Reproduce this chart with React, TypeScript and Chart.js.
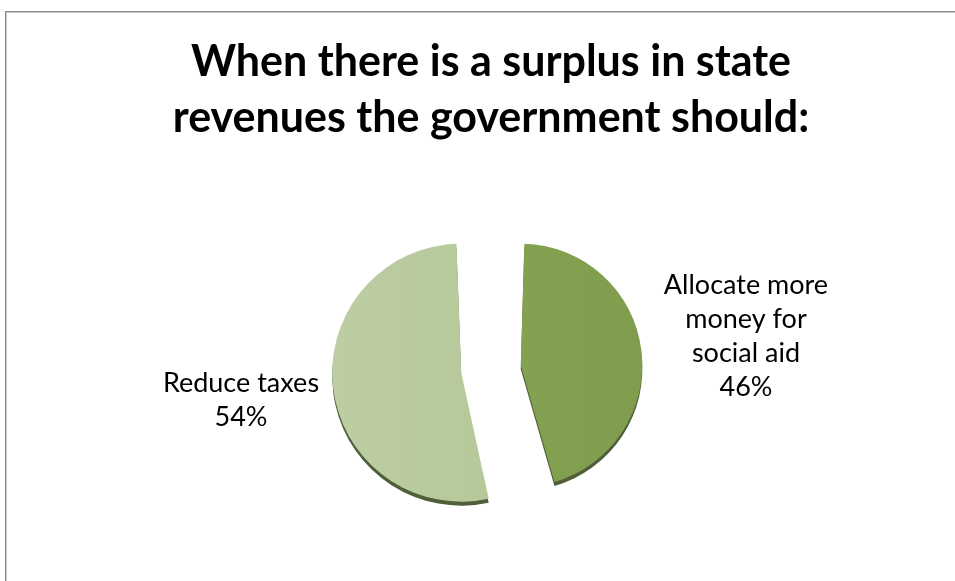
import React, { useEffect, useRef } from 'react';
import { Chart, registerables } from 'chart.js';
Chart.register(...registerables);

const categories: string[][] = [['Allocate more', 'money for', 'social aid'], ['Reduce taxes']];
const values: number[] = [46, 54];
const sliceColors: string[][] = [['#88a757', '#7e9c4b'], ['#bdcfa3', '#b2c595']];
const titleLines: string[] = ['When there is a surplus in state', 'revenues the government should:'];

const CW = 970;
const CH = 620;

const shadowPlugin = {
  id: 'pieShadow',
  beforeDatasetsDraw(chart: any) {
    const ctx = chart.ctx;
    ctx.save();
    ctx.shadowColor = '#4f5f3a';
    ctx.shadowOffsetX = 0;
    ctx.shadowOffsetY = 4;
    ctx.shadowBlur = 0;
  },
  afterDatasetsDraw(chart: any) {
    chart.ctx.restore();
  },
};

const labelPlugin = {
  id: 'outsideLabels',
  afterDraw(chart: any, _args: any, opts: any) {
    const ctx = chart.ctx;
    const meta = chart.getDatasetMeta(0);
    const total = values.reduce((a, b) => a + b, 0);
    ctx.save();
    ctx.font = opts.font;
    ctx.fillStyle = '#000';
    ctx.textAlign = 'center';
    ctx.textBaseline = 'middle';
    meta.data.forEach((arc: any, i: number) => {
      const { x, y, startAngle, endAngle } = arc.getProps(['x', 'y', 'startAngle', 'endAngle'], true);
      const mid = (startAngle + endAngle) / 2;
      const dist = opts.distances[i];
      const cx = x + Math.cos(mid) * dist;
      const cy = y + Math.sin(mid) * dist;
      const lines = [...categories[i], Math.round((values[i] / total) * 100) + '%'];
      const lh = opts.lineHeight;
      const top = cy - ((lines.length - 1) * lh) / 2;
      lines.forEach((ln, k) => ctx.fillText(ln, cx, top + k * lh));
    });
    ctx.restore();
  },
};

export default function App() {
  const ref = useRef<HTMLCanvasElement>(null);
  useEffect(() => {
    if (!ref.current) return;
    const chart = new Chart(ref.current, {
      type: 'pie',
      data: {
        labels: categories.map((c) => c.join(' ')),
        datasets: [
          {
            data: values,
            backgroundColor: (c: any) => {
              const area = c.chart.chartArea;
              const pair = sliceColors[c.dataIndex] || sliceColors[0];
              if (!area) return pair[1];
              const g = c.chart.ctx.createLinearGradient(area.left + area.width / 2 - 160, 0, area.left + area.width / 2 + 160, 0);
              g.addColorStop(0, pair[0]);
              g.addColorStop(1, pair[1]);
              return g;
            },
            borderWidth: 0,
            offset: 120,
          },
        ],
      },
      options: {
        responsive: false,
        animation: false,
        radius: 99,
        layout: { padding: { bottom: 52 } },
        plugins: {
          legend: { display: false },
          tooltip: { enabled: false },
          title: {
            display: true,
            text: titleLines,
            color: '#000',
            font: { family: 'Lato', size: 43, weight: 'bold', lineHeight: 1.3 },
            padding: { top: 22, bottom: 12 },
          },
          outsideLabels: { font: '27px Lato', lineHeight: 34, distances: [257, 252] },
        } as any,
      },
      plugins: [shadowPlugin, labelPlugin],
    });
    return () => chart.destroy();
  }, []);
  return (
    <div style={{ position: 'fixed', left: 0, top: 0, width: 955, height: 581, overflow: 'hidden', background: '#fff' }}>
      <div
        style={{
          position: 'absolute',
          left: 5,
          top: 11,
          width: CW,
          height: CH,
          borderLeft: '1px solid #8a8a8a',
          borderTop: '1px solid #8a8a8a',
          boxShadow: '1px 1px 0 0 #c8c8c8 inset',
          background: '#fff',
        }}
      >
        <canvas ref={ref} width={CW} height={CH} style={{ display: 'block', width: CW, height: CH }} />
      </div>
    </div>
  );
}
